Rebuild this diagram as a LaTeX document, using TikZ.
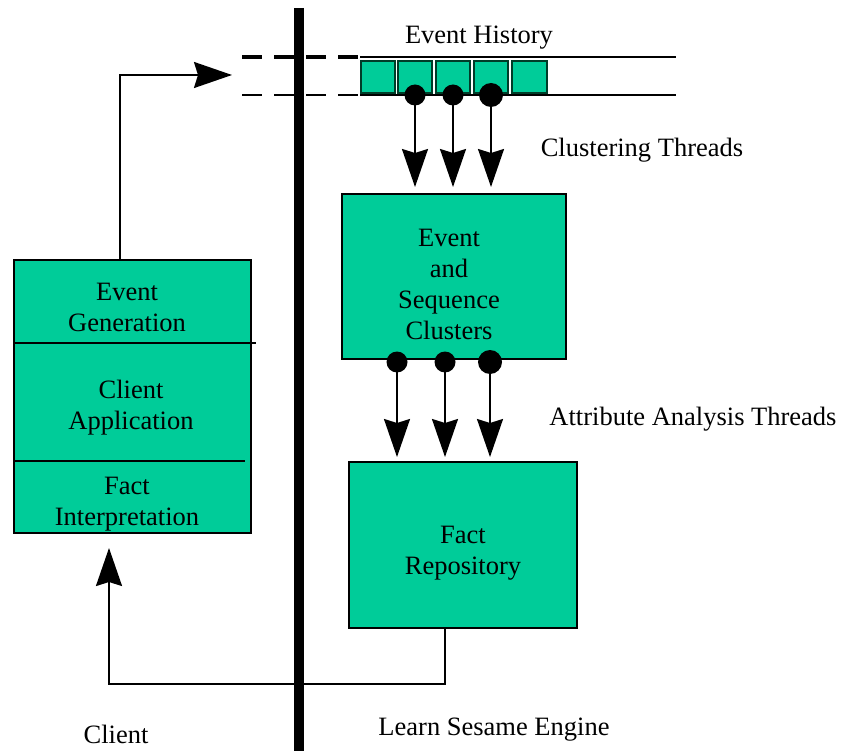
\documentclass[tikz,border=0pt]{standalone}
\usepackage{fontspec}
\setmainfont{Liberation Serif}
\usetikzlibrary{arrows.meta}
\definecolor{boxgreen}{RGB}{0,204,153}
\definecolor{edgegreen}{RGB}{0,60,40}
\begin{document}
\begin{tikzpicture}[x=1pt,y=-1pt,
  box/.style={draw=black,line width=2pt,fill=boxgreen,inner sep=0pt,align=center,
    font=\fontsize{26.5}{31}\selectfont},
  cell/.style={draw=edgegreen,line width=1.5pt,fill=boxgreen,minimum width=34pt,minimum height=32pt,inner sep=0pt},
  dot/.style={circle,fill=black,inner sep=0pt,minimum size=21pt},
  bigdot/.style={circle,fill=black,inner sep=0pt,minimum size=24pt},
  conn/.style={line width=2pt,-{Stealth[length=38pt,width=26pt,inset=4pt]}},
  line/.style={line width=2pt},
  lbl/.style={font=\fontsize{26.5}{31}\selectfont,align=center,inner sep=0pt}]
\useasboundingbox (0,0) rectangle (843,751);

% event history lanes
\draw[line width=4pt,dash pattern=on 20pt off 12pt] (242,57) -- (360,57);
\draw[line width=2.5pt,dash pattern=on 20pt off 12pt] (242,95) -- (360,95);
\draw[line width=2.5pt] (360,57) -- (676,57);
\draw[line width=2.5pt] (360,95) -- (676,95);

% cells
\node[cell] (c1) at (378,77) {};
\node[cell] (c2) at (415,77) {};
\node[cell] (c3) at (453,77) {};
\node[cell] (c4) at (491,77) {};
\node[cell,minimum width=35pt] (c5) at (529.5,77) {};

% separator bar
\draw[line width=10pt] (299,8) -- (299,751);

% boxes
\node[box,minimum width=224pt,minimum height=165pt] (clusters) at (454,276.5) {};
\node[lbl] (clustxt) at (449,284) {Event\\and\\Sequence\\Clusters};
\node[box,minimum width=228pt,minimum height=166pt] (factrepo) at (463,545) {};
\node[lbl] (repotxt) at (463,553) {Fact\\Repository};
\node[box,minimum width=237pt,minimum height=273pt] (client) at (132.5,396.5) {};
\draw[line] (client.west |- 0,343) -- (256,343);
\draw[line] (client.west |- 0,461) -- (245,461);
\node[lbl] (evgen) at (127,307) {Event\\Generation};
\node[lbl] (capp) at (131,408) {Client\\Application};
\node[lbl] (fint) at (127,504) {Fact\\Interpretation};

% clustering threads
\node[dot] (d1) at (415,95) {};
\node[dot] (d2) at (453,95) {};
\node[bigdot] (d3) at (491,95) {};
\draw[conn,shorten >=6pt] (d1.center) -- (d1.center |- clusters.north);
\draw[conn,shorten >=6pt] (d2.center) -- (d2.center |- clusters.north);
\draw[conn,shorten >=6pt] (d3.center) -- (d3.center |- clusters.north);

% attribute analysis threads
\node[dot] (e1) at (397,362) {};
\node[dot] (e2) at (445,362) {};
\node[bigdot] (e3) at (490,362) {};
\draw[conn,shorten >=4pt] (e1.center) -- (e1.center |- factrepo.north);
\draw[conn,shorten >=4pt] (e2.center) -- (e2.center |- factrepo.north);
\draw[conn,shorten >=4pt] (e3.center) -- (e3.center |- factrepo.north);

% client -> event history
\coordinate (histin) at (232,75);
\draw[conn] ([xshift=-12.5pt]client.north) |- (histin);

% fact repository -> client
\coordinate (ret) at (109,548);
\draw[conn] ([xshift=-18pt]factrepo.south) -- ++(0,55) -| (ret);
\draw[line width=10pt] (299,670) -- (299,751);

% labels
\node[lbl] (lhist) at (479,38) {Event History};
\node[lbl] (lclust) at (642,150) {Clustering Threads};
\node[lbl] (lattr) at (693,419) {Attribute Analysis Threads};
\node[lbl] (lclient) at (116,734) {Client};
\node[lbl] (lengine) at (494,730) {Learn Sesame Engine};
\end{tikzpicture}
\end{document}
